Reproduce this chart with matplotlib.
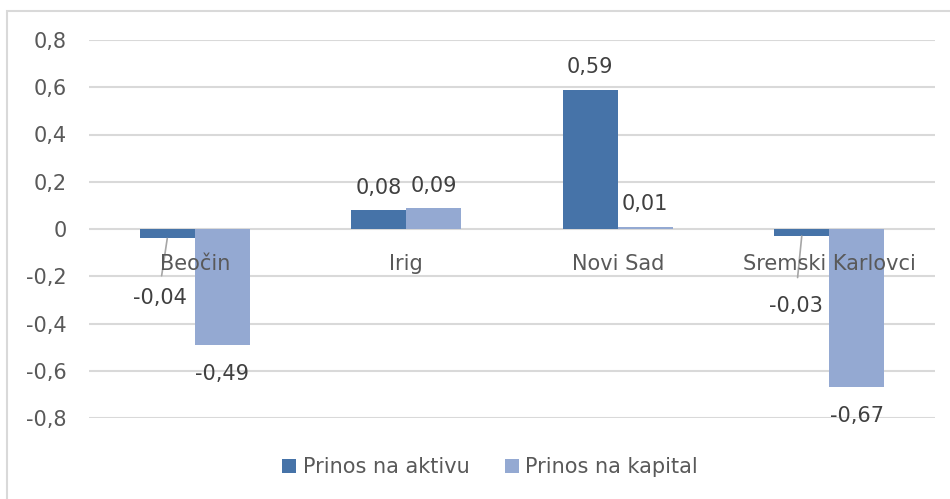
import numpy as np
import matplotlib.pyplot as plt
from matplotlib.patches import Rectangle

plt.rcParams['font.family'] = ['DejaVu Sans']

#Data
gradovi = ['Beočin', 'Irig', 'Novi Sad', 'Sremski Karlovci']
aktiva = [-0.04, 0.08, 0.59, -0.03]
kapital = [-0.49, 0.09, 0.01, -0.67]
serije = ['Prinos na aktivu', 'Prinos na kapital']
y_ticks = [-0.8, -0.6, -0.4, -0.2, 0, 0.2, 0.4, 0.6, 0.8]

c_akt = '#4673a8'
c_kap = '#94a9d2'
grid_c = '#d9d9d9'
txt_c = '#595959'
lbl_c = '#404040'

fig = plt.figure(figsize=(9.5, 4.99), dpi=100)
ax = fig.add_axes([89/950, 1-418/499, (935-89)/950, (418-40)/499])

x = np.arange(len(gradovi))
w = 0.26
b1 = ax.bar(x - w/2, aktiva, w, color=c_akt, label=serije[0], zorder=3)
b2 = ax.bar(x + w/2, kapital, w, color=c_kap, label=serije[1], zorder=3)

ax.set_xlim(-0.5, len(gradovi) - 0.5)
ax.set_ylim(-0.8, 0.8)
ax.set_yticks(y_ticks)
ax.set_yticklabels([('%g' % v).replace('.', ',') for v in y_ticks])
ax.tick_params(axis='y', length=0, pad=16, labelsize=15, labelcolor=txt_c)
ax.set_xticks([])
for s in ax.spines.values():
    s.set_visible(False)
ax.grid(axis='y', color=grid_c, linewidth=1.5, zorder=0)

#Category labels sit just under the zero line
for xi, g in zip(x, gradovi):
    ax.annotate(g, (xi, 0), xytext=(0, -25), textcoords='offset points',
                ha='center', va='center', fontsize=15, color=txt_c, zorder=4)

def fmt(v):
    return ('%.2f' % v).replace('.', ',')

#Data labels
for xi, v in zip(x - w/2, aktiva):
    if v >= 0:
        ax.annotate(fmt(v), (xi, v), xytext=(0, 16), textcoords='offset points',
                    ha='center', va='center', fontsize=15, color=lbl_c)
for xi, v in zip(x + w/2, kapital):
    dy = 16 if v >= 0 else -21
    ax.annotate(fmt(v), (xi, v), xytext=(0, dy), textcoords='offset points',
                ha='center', va='center', fontsize=15, color=lbl_c)

#Negative aktiva labels pulled away with leader lines
pomaci = {0: (-5.4, -43, 7), 3: (-4.3, -50, 11)}
for i, (dx, dy, sh) in pomaci.items():
    ax.annotate(fmt(aktiva[i]), (x[i] - w/2, aktiva[i]), xytext=(dx, dy),
                textcoords='offset points', ha='center', va='center',
                fontsize=15, color=lbl_c,
                arrowprops=dict(arrowstyle='-', color='#a6a6a6', lw=1.2,
                                relpos=(0.5, 1.0), shrinkA=sh, shrinkB=0))

fig.legend(handles=[b1, b2], labels=serije, loc='center',
           bbox_to_anchor=(490/950, 1-467/499), ncol=2, frameon=False,
           fontsize=15, labelcolor=txt_c, handlelength=0.67, handleheight=0.67,
           handletextpad=0.3, columnspacing=1.7)

#Chart border
fig.patches.append(Rectangle((7/950, -0.05), 1.0, 1-11/499+0.05,
                             transform=fig.transFigure, fill=False,
                             edgecolor=grid_c, linewidth=1.5))

fig.savefig('out.png', dpi=100)
